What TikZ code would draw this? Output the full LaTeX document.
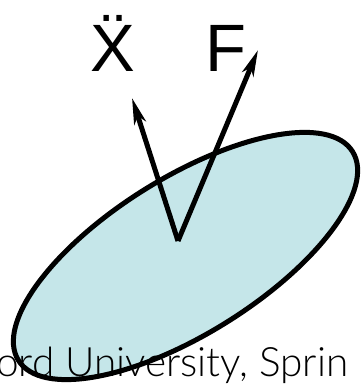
\documentclass[tikz,border=0pt]{standalone}
\usepackage{fontspec}
\setmainfont{Liberation Sans}
\newfontfamily\bottomfont{Lato Light}
\usetikzlibrary{arrows.meta}
\definecolor{bodyfill}{RGB}{197,230,233}
\tikzset{
  body/.style={draw=black, line width=5pt, fill=bodyfill},
  vec/.style={line width=5pt, -{Stealth[length=26pt, width=12pt, inset=7pt]}},
  lbl/.style={font=\fontsize{67}{67}\selectfont, inner sep=0pt, anchor=base},
  foot/.style={font=\bottomfont\fontsize{40.5}{40.5}\selectfont, inner sep=0pt, anchor=base west}
}
\begin{document}
\begin{tikzpicture}[x=1pt,y=1pt]
\useasboundingbox (0,0) rectangle (361,387);
\draw[body, rotate around={32:(185.5,131)}] (185.5,131) ellipse [x radius=197, y radius=78];
\node[foot] (foot) at (-4,10) {ord University, Sprin};
\coordinate (o) at (178,146);
\coordinate (tipx) at (132,289);
\coordinate (tipf) at (258,337);
\draw[vec] (o) -- (tipx);
\draw[vec] (o) -- (tipf);
\node[lbl] (xdd) at (113,315) {X\char"0308};
\node[lbl] (f) at (226,315) {F};
\end{tikzpicture}
\end{document}
